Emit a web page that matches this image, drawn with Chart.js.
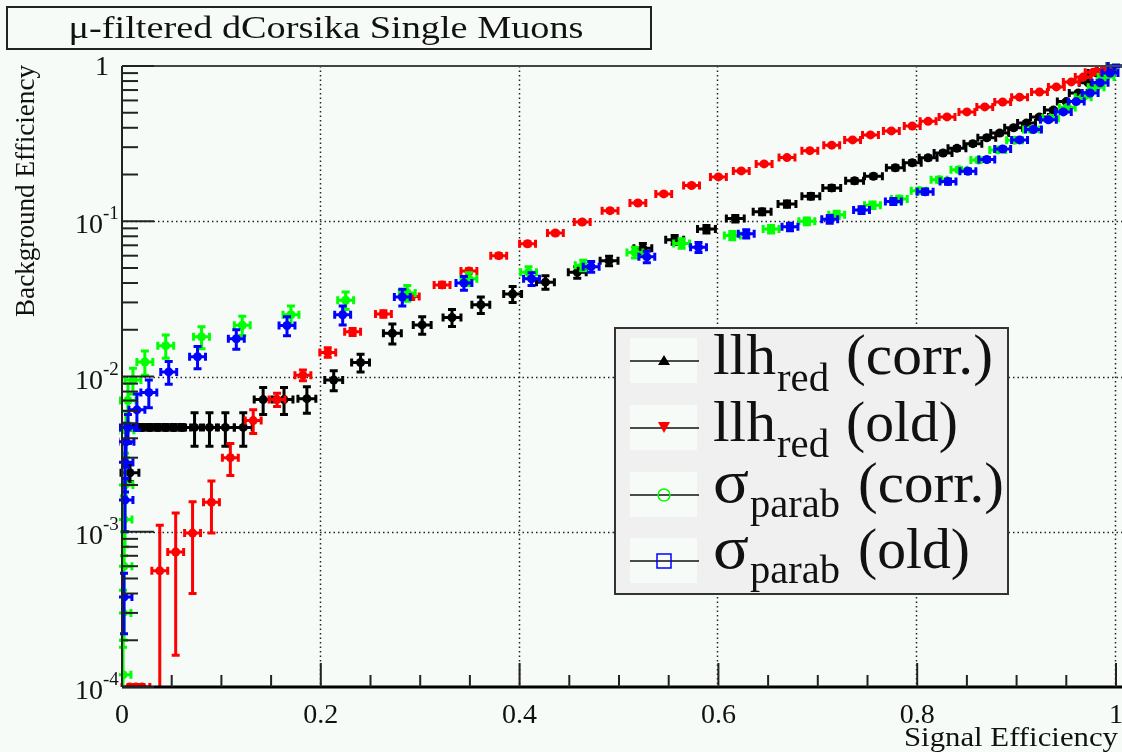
<!DOCTYPE html>
<html>
<head>
<meta charset="utf-8">
<script src="https://cdn.jsdelivr.net/npm/chart.js@4.4.1/dist/chart.umd.min.js"></script>
<style>
html, body { margin: 0; padding: 0; background: #f6fbf8; }
canvas { display: block; }
</style>
</head>
<body>
<canvas id="c" width="1122" height="752"></canvas>
<script>
// --- data ---
// llh_red (corr.)  black
var LLH_CORR_X = [0.008, 0.012, 0.020, 0.028, 0.036, 0.044, 0.052, 0.060, 0.073, 0.088, 0.104, 0.122, 0.142, 0.163, 0.186, 0.213, 0.240, 0.272, 0.302, 0.332, 0.361, 0.393, 0.426, 0.458, 0.490, 0.524, 0.556, 0.588, 0.617, 0.644, 0.669, 0.693, 0.714, 0.737, 0.756, 0.778, 0.795, 0.811, 0.826, 0.840, 0.856, 0.870, 0.883, 0.897, 0.910, 0.923, 0.937, 0.950, 0.962, 0.972, 0.981, 0.990, 1.000];
var LLH_CORR_Y = [0.0024, 0.0047, 0.0047, 0.0047, 0.0047, 0.0047, 0.0047, 0.0047, 0.0047, 0.0047, 0.0047, 0.0047, 0.0071, 0.0071, 0.0072, 0.0095, 0.0123, 0.019, 0.0215, 0.024, 0.029, 0.034, 0.0405, 0.047, 0.0556, 0.067, 0.076, 0.089, 0.104, 0.115, 0.129, 0.145, 0.164, 0.182, 0.195, 0.221, 0.238, 0.256, 0.275, 0.295, 0.316, 0.345, 0.37, 0.40, 0.43, 0.47, 0.52, 0.59, 0.67, 0.78, 0.90, 0.95, 1.0];
var LLH_CORR_EY = [0.0003, 0.0002, 0.0002, 0.0002, 0.0002, 0.0002, 0.0002, 0.0002, 0.00115, 0.00115, 0.00115, 0.00115, 0.0014, 0.0014, 0.0014, 0.0014, 0.0016, 0.0028, 0.0028, 0.003, 0.0035, 0.004, 0.004, 0.004, 0.004, 0.005, 0.005, 0.005, 0.005, 0.005, 0.006, 0.006, 0.006, 0.006, 0.006, 0.007, 0.007, 0.007, 0.007, 0.008, 0.008, 0.008, 0.009, 0.009, 0.009, 0.01, 0.01, 0.01, 0.01, 0.01, 0.01, 0.01, 0.01];

// llh_red (old)  red
var LLH_OLD_X = [0.008, 0.014, 0.020, 0.038, 0.054, 0.071, 0.090, 0.109, 0.132, 0.156, 0.182, 0.207, 0.232, 0.263, 0.291, 0.322, 0.349, 0.379, 0.408, 0.436, 0.463, 0.491, 0.519, 0.545, 0.573, 0.600, 0.623, 0.646, 0.669, 0.692, 0.714, 0.735, 0.753, 0.774, 0.795, 0.811, 0.830, 0.850, 0.868, 0.886, 0.903, 0.923, 0.940, 0.955, 0.967, 0.977, 0.988, 1.000];
var LLH_OLD_Y = [1e-4, 1e-4, 1e-4, 5.6e-4, 7.4e-4, 9.8e-4, 1.55e-3, 3.0e-3, 5.2e-3, 7.1e-3, 0.0102, 0.0143, 0.0194, 0.0253, 0.0327, 0.0389, 0.0478, 0.060, 0.0716, 0.084, 0.0989, 0.117, 0.131, 0.150, 0.170, 0.193, 0.211, 0.234, 0.257, 0.285, 0.309, 0.334, 0.360, 0.382, 0.411, 0.44, 0.47, 0.506, 0.545, 0.586, 0.63, 0.68, 0.733, 0.79, 0.85, 0.91, 0.95, 1.0];
var LLH_OLD_EY = [0, 0, 0, 5.4e-4, 5.8e-4, 5.8e-4, 5.7e-4, 7e-4, 9e-4, 7e-4, 8e-4, 1e-3, 1e-3, 1.2e-3, 1.4e-3, 1.5e-3, 1.6e-3, 1.8e-3, 2e-3, 2e-3, 2.2e-3, 2.5e-3, 2.5e-3, 2.8e-3, 3e-3, 3e-3, 3.2e-3, 3.5e-3, 3.5e-3, 4e-3, 4e-3, 4e-3, 4.5e-3, 4.5e-3, 5e-3, 5e-3, 5e-3, 5.5e-3, 5.5e-3, 6e-3, 6e-3, 6e-3, 6e-3, 6e-3, 6e-3, 6e-3, 6e-3, 6e-3];

// sigma_parab (corr.)  green
var SIG_CORR_X = [0.001, 0.001, 0.002, 0.002, 0.003, 0.004, 0.006, 0.011, 0.023, 0.044, 0.080, 0.121, 0.170, 0.225, 0.287, 0.349, 0.409, 0.464, 0.516, 0.563, 0.614, 0.653, 0.689, 0.719, 0.755, 0.782, 0.802, 0.822, 0.842, 0.862, 0.881, 0.898, 0.915, 0.934, 0.951, 0.967, 0.980, 0.990, 1.000];
var SIG_CORR_Y = [1.2e-4, 3e-4, 6e-4, 1.2e-3, 2e-3, 4.5e-3, 7e-3, 9.5e-3, 0.0124, 0.0158, 0.018, 0.0214, 0.025, 0.031, 0.0345, 0.0426, 0.047, 0.052, 0.063, 0.072, 0.081, 0.089, 0.100, 0.110, 0.127, 0.139, 0.157, 0.185, 0.215, 0.248, 0.288, 0.332, 0.39, 0.46, 0.54, 0.63, 0.73, 0.85, 1.0];
var SIG_CORR_EY = [8e-5, 1.2e-4, 4e-4, 5e-4, 1.2e-3, 1.5e-3, 2e-3, 1.8e-3, 2.2e-3, 2.7e-3, 2.9e-3, 3e-3, 3.5e-3, 4e-3, 4e-3, 4e-3, 4e-3, 4e-3, 5e-3, 5e-3, 5e-3, 5e-3, 5e-3, 6e-3, 6e-3, 6e-3, 6e-3, 7e-3, 7e-3, 7e-3, 8e-3, 8e-3, 8e-3, 9e-3, 9e-3, 1e-2, 1e-2, 1e-2, 1e-2];

// sigma_parab (old)  blue
var SIG_OLD_X = [0.002, 0.003, 0.003, 0.004, 0.006, 0.015, 0.027, 0.047, 0.076, 0.115, 0.166, 0.222, 0.282, 0.344, 0.412, 0.472, 0.528, 0.580, 0.628, 0.672, 0.712, 0.744, 0.776, 0.808, 0.831, 0.851, 0.870, 0.886, 0.903, 0.917, 0.932, 0.947, 0.960, 0.974, 0.984, 0.994, 1.000];
var SIG_OLD_Y = [3.8e-4, 1.6e-3, 2.8e-3, 3.8e-3, 4.7e-3, 6.1e-3, 7.9e-3, 0.0107, 0.0134, 0.0175, 0.0213, 0.025, 0.0325, 0.040, 0.0426, 0.051, 0.059, 0.068, 0.083, 0.092, 0.103, 0.118, 0.134, 0.155, 0.18, 0.21, 0.25, 0.292, 0.334, 0.39, 0.45, 0.506, 0.59, 0.67, 0.78, 0.90, 1.0];
var SIG_OLD_EY = [1.6e-4, 6e-4, 1e-3, 1.2e-3, 1e-3, 1.6e-3, 1.6e-3, 1.8e-3, 2.2e-3, 2.5e-3, 3e-3, 3.5e-3, 4e-3, 4e-3, 4e-3, 4e-3, 5e-3, 5e-3, 5e-3, 5e-3, 6e-3, 6e-3, 6e-3, 6e-3, 7e-3, 7e-3, 7e-3, 8e-3, 8e-3, 8e-3, 9e-3, 9e-3, 1e-2, 1e-2, 1e-2, 1e-2, 1e-2];

// horizontal errors (signal efficiency) per series
var X_ERR = [0.009, 0.008, 0.008, 0.008];

var LEGEND_MAIN = ['llh', 'llh', 'σ', 'σ'];
var LEGEND_SUB = ['red', 'red', 'parab', 'parab'];
var LEGEND_TAIL = ['(corr.)', '(old)', '(corr.)', '(old)'];
var COLORS = ['#000000', '#ff0000', '#00ff00', '#0000ff'];

var TITLE = 'μ-filtered dCorsika Single Muons';
var X_TITLE = 'Signal Efficiency';
var Y_TITLE = 'Background Efficiency';
var X_TICKS = [0, 0.2, 0.4, 0.6, 0.8, 1];
var X_TICK_LABELS = ['0', '0.2', '0.4', '0.6', '0.8', '1'];
var Y_TICK_EXP = [0, -1, -2, -3, -4];

var BG = '#f6fbf8';
var SERIF = '"Liberation Serif", "DejaVu Serif", serif';

var SERIES = [
  {x: LLH_CORR_X, y: LLH_CORR_Y, ey: LLH_CORR_EY},
  {x: LLH_OLD_X, y: LLH_OLD_Y, ey: LLH_OLD_EY},
  {x: SIG_CORR_X, y: SIG_CORR_Y, ey: SIG_CORR_EY},
  {x: SIG_OLD_X, y: SIG_OLD_Y, ey: SIG_OLD_EY}
];

function font(size) { return size + 'px ' + SERIF; }

// draw text squeezed/stretched horizontally to a given width
function fitText(ctx, str, x, y, size, width, align) {
  ctx.font = font(size);
  var w = ctx.measureText(str).width;
  var sx = width ? width / w : 1;
  ctx.save();
  var left = x;
  if (align === 'center') left = x - w * sx / 2;
  else if (align === 'right') left = x - w * sx;
  ctx.translate(left, y);
  ctx.scale(sx, 1);
  ctx.textAlign = 'left';
  ctx.fillText(str, 0, 0);
  ctx.restore();
}

function drawErrors(chart, di) {
  var ctx = chart.ctx, xs = chart.scales.x, ys = chart.scales.y, a = chart.chartArea;
  var s = SERIES[di], ex = X_ERR[di];
  ctx.save();
  ctx.beginPath();
  ctx.rect(a.left - 3, a.top - 8, a.right - a.left + 12, a.bottom - a.top + 8);
  ctx.clip();
  ctx.strokeStyle = COLORS[di];
  ctx.lineWidth = 3;
  var cap = 4;
  for (var i = 0; i < s.x.length; i++) {
    var px = xs.getPixelForValue(s.x[i]);
    var py = ys.getPixelForValue(s.y[i]);
    var x1 = xs.getPixelForValue(s.x[i] - ex);
    var x2 = xs.getPixelForValue(s.x[i] + ex);
    ctx.beginPath();
    ctx.moveTo(x1, py); ctx.lineTo(x2, py);
    ctx.moveTo(x1, py - cap); ctx.lineTo(x1, py + cap);
    ctx.moveTo(x2, py - cap); ctx.lineTo(x2, py + cap);
    if (s.ey[i] > 0) {
      var lo = s.y[i] - s.ey[i];
      var y1 = lo > 0 ? ys.getPixelForValue(lo) : a.bottom + 20;
      var y2 = ys.getPixelForValue(s.y[i] + s.ey[i]);
      ctx.moveTo(px, y1); ctx.lineTo(px, y2);
      ctx.moveTo(px - cap, y1); ctx.lineTo(px + cap, y1);
      ctx.moveTo(px - cap, y2); ctx.lineTo(px + cap, y2);
    }
    ctx.stroke();
  }
  ctx.restore();
}

var rootLook = {
  id: 'rootLook',
  beforeDraw: function (chart) {
    var ctx = chart.ctx, a = chart.chartArea, xs = chart.scales.x, ys = chart.scales.y;
    ctx.save();
    ctx.fillStyle = BG;
    ctx.fillRect(0, 0, chart.width, chart.height);

    // dotted grid
    ctx.strokeStyle = '#222';
    ctx.lineWidth = 1.5;
    ctx.setLineDash([1.5, 3]);
    X_TICKS.forEach(function (v) {
      if (v === 0) return;
      var px = Math.round(xs.getPixelForValue(v)) - 0.5;
      ctx.beginPath(); ctx.moveTo(px, a.top); ctx.lineTo(px, a.bottom); ctx.stroke();
    });
    Y_TICK_EXP.forEach(function (e) {
      if (e === 0 || e === -4) return;
      var py = Math.round(ys.getPixelForValue(Math.pow(10, e))) + 0.5;
      ctx.beginPath(); ctx.moveTo(a.left, py); ctx.lineTo(a.right + 6, py); ctx.stroke();
    });
    ctx.setLineDash([]);

    // title box
    ctx.fillStyle = BG;
    ctx.fillRect(7, 7, 644, 42);
    ctx.strokeStyle = '#222';
    ctx.lineWidth = 2;
    ctx.strokeRect(7, 7, 644, 42);
    ctx.fillStyle = '#111';
    fitText(ctx, TITLE, 326, 38, 32, 515, 'center');
    ctx.restore();
  },
  beforeDatasetDraw: function (chart, args) {
    drawErrors(chart, args.index);
  },
  afterDatasetsDraw: function (chart) {
    var ctx = chart.ctx, a = chart.chartArea, xs = chart.scales.x, ys = chart.scales.y;
    ctx.save();
    // frame
    ctx.strokeStyle = '#444';
    ctx.lineWidth = 2;
    ctx.beginPath(); ctx.moveTo(a.left, a.top); ctx.lineTo(chart.width, a.top); ctx.stroke();
    ctx.strokeStyle = '#222';
    ctx.beginPath(); ctx.moveTo(a.left, a.top); ctx.lineTo(a.left, a.bottom); ctx.stroke();
    ctx.strokeStyle = '#000';
    ctx.lineWidth = 3;
    ctx.beginPath(); ctx.moveTo(a.left, a.bottom); ctx.lineTo(chart.width, a.bottom); ctx.stroke();

    // y ticks (log, inside)
    ctx.lineWidth = 2;
    ctx.strokeStyle = '#222';
    for (var e = -4; e <= 0; e++) {
      var py = ys.getPixelForValue(Math.pow(10, e));
      ctx.beginPath(); ctx.moveTo(a.left, py); ctx.lineTo(a.left + 32, py); ctx.stroke();
      if (e === 0) break;
      for (var m = 2; m <= 9; m++) {
        var pm = ys.getPixelForValue(m * Math.pow(10, e));
        ctx.beginPath(); ctx.moveTo(a.left, pm); ctx.lineTo(a.left + 16, pm); ctx.stroke();
      }
    }
    // x ticks
    for (var k = 0; k <= 20; k++) {
      var px = xs.getPixelForValue(k * 0.05);
      var len = (k % 4 === 0) ? 24 : 12;
      ctx.beginPath(); ctx.moveTo(px, a.bottom); ctx.lineTo(px, a.bottom - len); ctx.stroke();
    }

    // tick labels
    ctx.fillStyle = '#111';
    ctx.textBaseline = 'alphabetic';
    X_TICKS.forEach(function (v, i) {
      ctx.font = font(28);
      ctx.textAlign = 'center';
      ctx.fillText(X_TICK_LABELS[i], xs.getPixelForValue(v), a.bottom + 36);
    });
    Y_TICK_EXP.forEach(function (e) {
      var py = ys.getPixelForValue(Math.pow(10, e));
      ctx.textAlign = 'right';
      if (e === 0) {
        ctx.font = font(28);
        ctx.fillText('1', 109, py + 9);
      } else {
        ctx.font = font(28);
        ctx.fillText('10', 103, py + 12);
        ctx.font = font(19);
        ctx.textAlign = 'left';
        ctx.fillText('-' + Math.abs(e), 103, py - 2);
      }
    });

    // axis titles
    fitText(ctx, X_TITLE, 1118, 746, 28, 214, 'right');
    ctx.save();
    ctx.translate(34, 191);
    ctx.rotate(-Math.PI / 2);
    fitText(ctx, Y_TITLE, 0, 0, 27, 252, 'center');
    ctx.restore();

    // legend
    ctx.fillStyle = '#f0f0f0';
    ctx.fillRect(615, 328, 393, 266);
    ctx.strokeStyle = '#333';
    ctx.lineWidth = 2;
    ctx.strokeRect(615, 328, 393, 266);
    var rowY = [361, 428, 495, 561];
    var mainBase = [374, 441, 502, 568];
    var subBase = [391, 457, 517, 583];
    var tailX = [846, 846, 858, 858];
    var tailW = [147, 112, 146, 112];
    for (var r = 0; r < 4; r++) {
      var cy = rowY[r];
      ctx.fillStyle = '#f7fbf8';
      ctx.fillRect(630, cy - 23, 67, 45);
      ctx.strokeStyle = '#111';
      ctx.lineWidth = 1.5;
      ctx.beginPath(); ctx.moveTo(630, cy); ctx.lineTo(699, cy); ctx.stroke();
      var mx = 664;
      ctx.fillStyle = COLORS[r];
      ctx.strokeStyle = COLORS[r];
      ctx.lineWidth = 1.5;
      ctx.beginPath();
      if (r === 0) {
        ctx.moveTo(mx, cy - 6); ctx.lineTo(mx + 6, cy + 4); ctx.lineTo(mx - 6, cy + 4); ctx.closePath(); ctx.fill();
      } else if (r === 1) {
        ctx.moveTo(mx - 6, cy - 6); ctx.lineTo(mx + 6, cy - 6); ctx.lineTo(mx, cy + 5); ctx.closePath(); ctx.fill();
      } else if (r === 2) {
        ctx.arc(mx, cy, 6, 0, Math.PI * 2); ctx.stroke();
      } else {
        ctx.rect(mx - 7, cy - 7, 14, 14); ctx.stroke();
      }
      ctx.fillStyle = '#111';
      var mainW = r < 2 ? 63 : 36;
      fitText(ctx, LEGEND_MAIN[r], 713, mainBase[r], r < 2 ? 57 : 62, mainW, 'left');
      fitText(ctx, LEGEND_SUB[r], 713 + mainW + 1, subBase[r], 40, r < 2 ? 52 : 90, 'left');
      fitText(ctx, LEGEND_TAIL[r], tailX[r], mainBase[r], 58, tailW[r], 'left');
    }
    ctx.restore();
  }
};

function makeDataset(i, order) {
  var s = SERIES[i];
  return {
    label: LEGEND_MAIN[i] + LEGEND_SUB[i] + ' ' + LEGEND_TAIL[i],
    data: s.x.map(function (x, k) { return {x: x, y: s.y[k]}; }),
    backgroundColor: COLORS[i],
    borderColor: COLORS[i],
    borderWidth: 0,
    pointRadius: 4.5,
    pointStyle: 'circle',
    showLine: false,
    order: order
  };
}

new Chart(document.getElementById('c'), {
  type: 'scatter',
  data: {
    datasets: [makeDataset(0, 4), makeDataset(1, 3), makeDataset(2, 2), makeDataset(3, 1)]
  },
  options: {
    responsive: false,
    animation: false,
    devicePixelRatio: 1,
    events: [],
    layout: { padding: { left: 122, right: 6, top: 66, bottom: 65 } },
    scales: {
      x: { type: 'linear', min: 0, max: 1, display: false },
      y: { type: 'logarithmic', min: 1e-4, max: 1, display: false }
    },
    plugins: { legend: { display: false }, tooltip: { enabled: false } }
  },
  plugins: [rootLook]
});
</script>
</body>
</html>
